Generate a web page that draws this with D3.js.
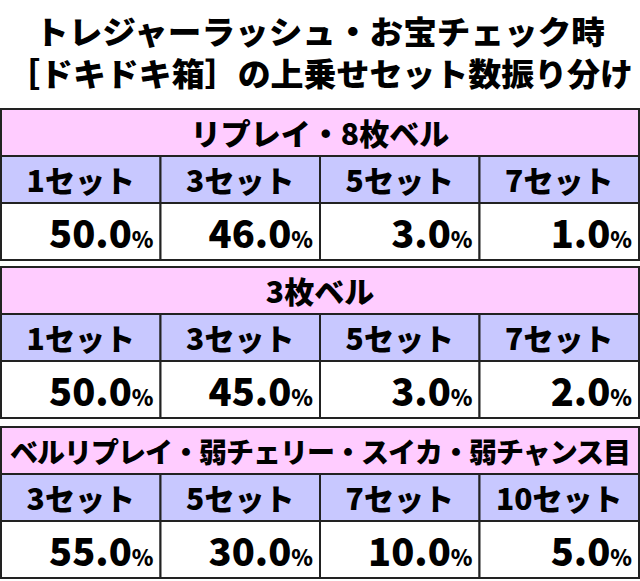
<!DOCTYPE html><html><head><meta charset="utf-8"><script src="https://cdn.jsdelivr.net/npm/d3@7"></script>
<style>body{margin:0;background:#fff}</style></head><body><svg id="c" width="640" height="581"></svg>
<script>
const titles=["トレジャーラッシュ・お宝チェック時","［ドキドキ箱］の上乗せセット数振り分け"];
const sections=["リプレイ・8枚ベル","3枚ベル","ベルリプレイ・弱チェリー・スイカ・弱チャンス目"];
const setLabels=[["1セット","3セット","5セット","7セット"],["1セット","3セット","5セット","7セット"],["3セット","5セット","7セット","10セット"]];
const values=[[50.0,46.0,3.0,1.0],[50.0,45.0,3.0,2.0],[55.0,30.0,10.0,5.0]];
const tops=[109,267,427];
const svg=d3.select("#c");
const F="'Noto Sans CJK JP',sans-serif";
titles.forEach((t,i)=>svg.append("text").attr("x",320).attr("y",[44,86][i]).attr("text-anchor","middle")
 .attr("font-family",F).attr("font-weight",900).attr("font-size",32).attr("textLength",i?626:570).attr("lengthAdjust","spacingAndGlyphs").text(t));
const x=d3.scaleBand().domain([0,1,2,3]).range([1,639]);
sections.forEach((s,k)=>{
 const y0=tops[k];
 const g=svg.append("g");
 g.append("rect").attr("x",1).attr("y",y0).attr("width",638).attr("height",47).attr("fill","#ffccff").attr("stroke","#222").attr("stroke-width",2);
 g.append("text").attr("x",320).attr("y",y0+36).attr("text-anchor","middle").attr("font-family",F).attr("font-weight",900).attr("font-size",k==2?28:30)
  .attr("letter-spacing",k==2?-1:0).text(s);
 [0,1,2,3].forEach(c=>{
  g.append("rect").attr("x",x(c)).attr("y",y0+47).attr("width",x.bandwidth()).attr("height",47).attr("fill","#c8c8ff").attr("stroke","#222").attr("stroke-width",2);
  g.append("rect").attr("x",x(c)).attr("y",y0+94).attr("width",x.bandwidth()).attr("height",57).attr("fill","#fff").attr("stroke","#222").attr("stroke-width",2);
  g.append("text").attr("x",x(c)+x.bandwidth()/2).attr("y",y0+83).attr("text-anchor","middle").attr("font-family",F).attr("font-weight",900).attr("font-size",30).text(setLabels[k][c]);
  const t=g.append("text").attr("x",x(c)+x.bandwidth()-7).attr("y",y0+139).attr("text-anchor","end").attr("font-family",F).attr("font-weight",900);
  t.append("tspan").attr("font-size",38).text(values[k][c].toFixed(1));
  t.append("tspan").attr("font-size",22).text("%");
 });
});
</script></body></html>
